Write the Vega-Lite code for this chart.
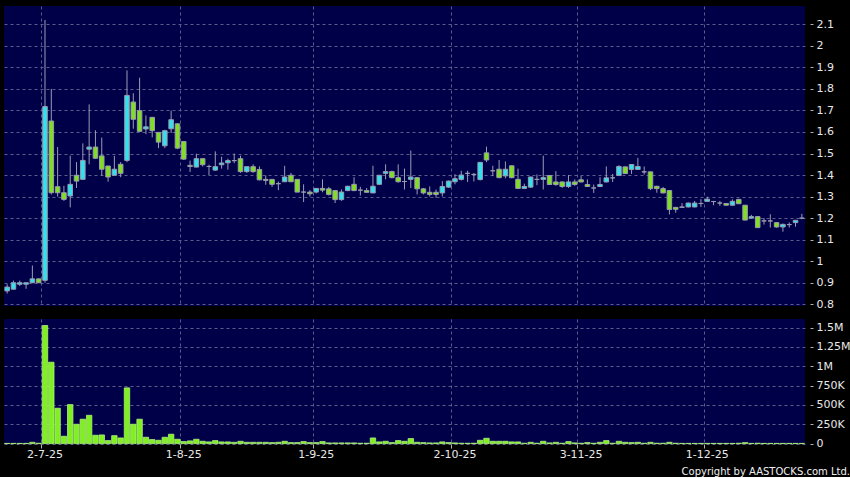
{
 "$schema": "https://vega.github.io/schema/vega-lite/v6.json",
 "background": "#000000",
 "padding": {"left": 4, "top": 6, "right": 0, "bottom": 0},
 "spacing": 9,
 "config": {
  "view": {"fill": "#000048", "stroke": null},
  "font": "DejaVu Sans",
  "axis": {"labelColor": "#e8e8e8", "labelFont": "DejaVu Sans", "labelFontSize": 11, "tickColor": "#b0b0b0", "domain": false, "gridColor": "#5c5c8c", "gridDash": [3, 3], "gridWidth": 1}
 },
 "title": {"text": "Copyright by AASTOCKS.com Ltd.", "orient": "bottom", "anchor": "end", "fontSize": 10, "fontWeight": "normal", "color": "#f0f0f0", "offset": 8, "font": "DejaVu Sans"},
 "data": {"values": [
{"d":"2025-06-23","o":0.862,"c":0.880,"h":0.893,"l":0.850,"v":3000},
{"d":"2025-06-24","o":0.870,"c":0.900,"h":0.910,"l":0.868,"v":3000},
{"d":"2025-06-25","o":0.893,"c":0.900,"h":0.910,"l":0.885,"v":3000},
{"d":"2025-06-26","o":0.893,"c":0.900,"h":0.900,"l":0.872,"v":3000},
{"d":"2025-06-27","o":0.900,"c":0.918,"h":0.980,"l":0.900,"v":17000},
{"d":"2025-06-30","o":0.918,"c":0.900,"h":0.920,"l":0.900,"v":5000},
{"d":"2025-07-02","o":0.911,"c":1.718,"h":2.120,"l":0.900,"v":1526000},
{"d":"2025-07-03","o":1.651,"c":1.318,"h":1.800,"l":1.310,"v":1052000},
{"d":"2025-07-04","o":1.346,"c":1.318,"h":1.530,"l":1.300,"v":457000},
{"d":"2025-07-07","o":1.318,"c":1.287,"h":1.350,"l":1.280,"v":95000},
{"d":"2025-07-08","o":1.303,"c":1.357,"h":1.490,"l":1.250,"v":504000},
{"d":"2025-07-09","o":1.399,"c":1.372,"h":1.460,"l":1.340,"v":250000},
{"d":"2025-07-10","o":1.380,"c":1.468,"h":1.547,"l":1.380,"v":315000},
{"d":"2025-07-11","o":1.520,"c":1.530,"h":1.728,"l":1.450,"v":366000},
{"d":"2025-07-14","o":1.530,"c":1.478,"h":1.608,"l":1.475,"v":108000},
{"d":"2025-07-15","o":1.489,"c":1.427,"h":1.574,"l":1.396,"v":112000},
{"d":"2025-07-16","o":1.442,"c":1.391,"h":1.442,"l":1.369,"v":39000},
{"d":"2025-07-17","o":1.399,"c":1.427,"h":1.489,"l":1.399,"v":103000},
{"d":"2025-07-18","o":1.450,"c":1.408,"h":1.460,"l":1.390,"v":73000},
{"d":"2025-07-21","o":1.468,"c":1.770,"h":1.886,"l":1.460,"v":720000},
{"d":"2025-07-22","o":1.739,"c":1.659,"h":1.780,"l":1.615,"v":250000},
{"d":"2025-07-23","o":1.699,"c":1.603,"h":1.852,"l":1.600,"v":315000},
{"d":"2025-07-24","o":1.614,"c":1.624,"h":1.677,"l":1.590,"v":82000},
{"d":"2025-07-25","o":1.668,"c":1.606,"h":1.668,"l":1.575,"v":52000},
{"d":"2025-07-28","o":1.598,"c":1.553,"h":1.598,"l":1.525,"v":43000},
{"d":"2025-07-29","o":1.536,"c":1.606,"h":1.610,"l":1.525,"v":82000},
{"d":"2025-07-30","o":1.615,"c":1.657,"h":1.699,"l":1.595,"v":121000},
{"d":"2025-07-31","o":1.638,"c":1.525,"h":1.640,"l":1.520,"v":56000},
{"d":"2025-08-01","o":1.556,"c":1.474,"h":1.556,"l":1.470,"v":26000},
{"d":"2025-08-04","o":1.445,"c":1.440,"h":1.467,"l":1.414,"v":35000},
{"d":"2025-08-05","o":1.437,"c":1.476,"h":1.499,"l":1.437,"v":56000},
{"d":"2025-08-06","o":1.476,"c":1.448,"h":1.476,"l":1.440,"v":30000},
{"d":"2025-08-07","o":1.440,"c":1.440,"h":1.448,"l":1.400,"v":22000},
{"d":"2025-08-08","o":1.423,"c":1.439,"h":1.510,"l":1.420,"v":39000},
{"d":"2025-08-11","o":1.448,"c":1.456,"h":1.485,"l":1.430,"v":22000},
{"d":"2025-08-12","o":1.457,"c":1.467,"h":1.476,"l":1.425,"v":22000},
{"d":"2025-08-13","o":1.467,"c":1.467,"h":1.500,"l":1.455,"v":17000},
{"d":"2025-08-14","o":1.476,"c":1.416,"h":1.490,"l":1.410,"v":30000},
{"d":"2025-08-15","o":1.416,"c":1.439,"h":1.440,"l":1.410,"v":17000},
{"d":"2025-08-18","o":1.439,"c":1.416,"h":1.450,"l":1.410,"v":17000},
{"d":"2025-08-19","o":1.426,"c":1.378,"h":1.440,"l":1.375,"v":17000},
{"d":"2025-08-20","o":1.380,"c":1.375,"h":1.398,"l":1.355,"v":17000},
{"d":"2025-08-21","o":1.380,"c":1.357,"h":1.380,"l":1.345,"v":13000},
{"d":"2025-08-22","o":1.360,"c":1.360,"h":1.370,"l":1.330,"v":17000},
{"d":"2025-08-25","o":1.369,"c":1.391,"h":1.443,"l":1.369,"v":30000},
{"d":"2025-08-26","o":1.399,"c":1.369,"h":1.410,"l":1.369,"v":13000},
{"d":"2025-08-27","o":1.380,"c":1.321,"h":1.380,"l":1.320,"v":13000},
{"d":"2025-08-28","o":1.321,"c":1.321,"h":1.357,"l":1.275,"v":26000},
{"d":"2025-08-29","o":1.321,"c":1.313,"h":1.330,"l":1.300,"v":13000},
{"d":"2025-09-01","o":1.321,"c":1.338,"h":1.340,"l":1.315,"v":13000},
{"d":"2025-09-02","o":1.338,"c":1.330,"h":1.380,"l":1.320,"v":26000},
{"d":"2025-09-03","o":1.336,"c":1.310,"h":1.345,"l":1.305,"v":9000},
{"d":"2025-09-04","o":1.328,"c":1.286,"h":1.330,"l":1.270,"v":9000},
{"d":"2025-09-05","o":1.286,"c":1.321,"h":1.333,"l":1.280,"v":9000},
{"d":"2025-09-08","o":1.328,"c":1.348,"h":1.350,"l":1.325,"v":9000},
{"d":"2025-09-09","o":1.357,"c":1.328,"h":1.390,"l":1.325,"v":9000},
{"d":"2025-09-10","o":1.330,"c":1.330,"h":1.345,"l":1.305,"v":5000},
{"d":"2025-09-11","o":1.328,"c":1.320,"h":1.340,"l":1.318,"v":5000},
{"d":"2025-09-12","o":1.317,"c":1.348,"h":1.443,"l":1.317,"v":73000},
{"d":"2025-09-15","o":1.357,"c":1.399,"h":1.400,"l":1.355,"v":22000},
{"d":"2025-09-16","o":1.408,"c":1.416,"h":1.450,"l":1.380,"v":30000},
{"d":"2025-09-17","o":1.416,"c":1.388,"h":1.420,"l":1.385,"v":13000},
{"d":"2025-09-18","o":1.388,"c":1.369,"h":1.450,"l":1.365,"v":39000},
{"d":"2025-09-19","o":1.370,"c":1.370,"h":1.430,"l":1.333,"v":30000},
{"d":"2025-09-22","o":1.380,"c":1.391,"h":1.514,"l":1.340,"v":65000},
{"d":"2025-09-23","o":1.388,"c":1.336,"h":1.390,"l":1.310,"v":17000},
{"d":"2025-09-24","o":1.336,"c":1.317,"h":1.340,"l":1.310,"v":13000},
{"d":"2025-09-25","o":1.320,"c":1.310,"h":1.347,"l":1.300,"v":9000},
{"d":"2025-09-26","o":1.320,"c":1.310,"h":1.333,"l":1.295,"v":9000},
{"d":"2025-09-29","o":1.317,"c":1.347,"h":1.372,"l":1.300,"v":22000},
{"d":"2025-09-30","o":1.344,"c":1.372,"h":1.375,"l":1.340,"v":13000},
{"d":"2025-10-02","o":1.369,"c":1.383,"h":1.404,"l":1.357,"v":9000},
{"d":"2025-10-03","o":1.380,"c":1.400,"h":1.420,"l":1.375,"v":5000},
{"d":"2025-10-06","o":1.408,"c":1.408,"h":1.420,"l":1.368,"v":5000},
{"d":"2025-10-08","o":1.403,"c":1.403,"h":1.410,"l":1.370,"v":5000},
{"d":"2025-10-09","o":1.379,"c":1.459,"h":1.460,"l":1.375,"v":43000},
{"d":"2025-10-10","o":1.503,"c":1.470,"h":1.532,"l":1.460,"v":69000},
{"d":"2025-10-13","o":1.420,"c":1.420,"h":1.443,"l":1.395,"v":30000},
{"d":"2025-10-14","o":1.427,"c":1.388,"h":1.470,"l":1.385,"v":30000},
{"d":"2025-10-15","o":1.396,"c":1.427,"h":1.463,"l":1.385,"v":30000},
{"d":"2025-10-16","o":1.443,"c":1.388,"h":1.445,"l":1.385,"v":22000},
{"d":"2025-10-17","o":1.380,"c":1.338,"h":1.430,"l":1.335,"v":22000},
{"d":"2025-10-20","o":1.338,"c":1.347,"h":1.360,"l":1.335,"v":5000},
{"d":"2025-10-21","o":1.344,"c":1.391,"h":1.392,"l":1.340,"v":17000},
{"d":"2025-10-22","o":1.380,"c":1.380,"h":1.403,"l":1.353,"v":5000},
{"d":"2025-10-23","o":1.380,"c":1.388,"h":1.490,"l":1.333,"v":30000},
{"d":"2025-10-24","o":1.398,"c":1.356,"h":1.400,"l":1.355,"v":9000},
{"d":"2025-10-27","o":1.368,"c":1.356,"h":1.418,"l":1.350,"v":17000},
{"d":"2025-10-28","o":1.368,"c":1.347,"h":1.370,"l":1.340,"v":5000},
{"d":"2025-10-30","o":1.347,"c":1.368,"h":1.400,"l":1.340,"v":26000},
{"d":"2025-10-31","o":1.368,"c":1.356,"h":1.380,"l":1.350,"v":9000},
{"d":"2025-11-03","o":1.378,"c":1.368,"h":1.395,"l":1.366,"v":5000},
{"d":"2025-11-04","o":1.356,"c":1.347,"h":1.380,"l":1.345,"v":13000},
{"d":"2025-11-05","o":1.340,"c":1.340,"h":1.356,"l":1.317,"v":5000},
{"d":"2025-11-06","o":1.347,"c":1.356,"h":1.390,"l":1.345,"v":17000},
{"d":"2025-11-07","o":1.368,"c":1.387,"h":1.440,"l":1.366,"v":39000},
{"d":"2025-11-10","o":1.387,"c":1.387,"h":1.405,"l":1.368,"v":5000},
{"d":"2025-11-11","o":1.398,"c":1.440,"h":1.445,"l":1.395,"v":30000},
{"d":"2025-11-12","o":1.438,"c":1.407,"h":1.440,"l":1.405,"v":17000},
{"d":"2025-11-13","o":1.426,"c":1.449,"h":1.450,"l":1.405,"v":13000},
{"d":"2025-11-14","o":1.426,"c":1.440,"h":1.480,"l":1.425,"v":17000},
{"d":"2025-11-17","o":1.415,"c":1.415,"h":1.440,"l":1.402,"v":5000},
{"d":"2025-11-18","o":1.415,"c":1.337,"h":1.415,"l":1.330,"v":17000},
{"d":"2025-11-19","o":1.348,"c":1.337,"h":1.350,"l":1.318,"v":5000},
{"d":"2025-11-20","o":1.337,"c":1.317,"h":1.345,"l":1.315,"v":5000},
{"d":"2025-11-21","o":1.328,"c":1.240,"h":1.330,"l":1.217,"v":17000},
{"d":"2025-11-24","o":1.250,"c":1.241,"h":1.252,"l":1.225,"v":5000},
{"d":"2025-11-25","o":1.250,"c":1.252,"h":1.270,"l":1.250,"v":3000},
{"d":"2025-11-26","o":1.252,"c":1.270,"h":1.272,"l":1.250,"v":3000},
{"d":"2025-11-27","o":1.252,"c":1.270,"h":1.280,"l":1.250,"v":3000},
{"d":"2025-11-28","o":1.268,"c":1.268,"h":1.288,"l":1.252,"v":3000},
{"d":"2025-12-01","o":1.278,"c":1.288,"h":1.300,"l":1.275,"v":3000},
{"d":"2025-12-02","o":1.277,"c":1.277,"h":1.280,"l":1.260,"v":3000},
{"d":"2025-12-03","o":1.270,"c":1.270,"h":1.280,"l":1.257,"v":3000},
{"d":"2025-12-04","o":1.268,"c":1.260,"h":1.270,"l":1.258,"v":3000},
{"d":"2025-12-05","o":1.260,"c":1.278,"h":1.287,"l":1.258,"v":3000},
{"d":"2025-12-08","o":1.287,"c":1.267,"h":1.290,"l":1.265,"v":5000},
{"d":"2025-12-09","o":1.260,"c":1.191,"h":1.260,"l":1.190,"v":13000},
{"d":"2025-12-10","o":1.200,"c":1.207,"h":1.215,"l":1.198,"v":3000},
{"d":"2025-12-11","o":1.207,"c":1.156,"h":1.210,"l":1.155,"v":5000},
{"d":"2025-12-12","o":1.187,"c":1.187,"h":1.200,"l":1.170,"v":3000},
{"d":"2025-12-15","o":1.187,"c":1.187,"h":1.218,"l":1.156,"v":3000},
{"d":"2025-12-16","o":1.179,"c":1.159,"h":1.180,"l":1.155,"v":3000},
{"d":"2025-12-17","o":1.159,"c":1.171,"h":1.175,"l":1.137,"v":3000},
{"d":"2025-12-18","o":1.170,"c":1.170,"h":1.180,"l":1.156,"v":3000},
{"d":"2025-12-19","o":1.179,"c":1.190,"h":1.190,"l":1.160,"v":3000},
{"d":"2025-12-22","o":1.200,"c":1.200,"h":1.220,"l":1.195,"v":3000}
 ]},
 "vconcat": [
  {
   "width": 801,
   "height": 300,
   "encoding": {
    "x": {"field": "d", "type": "ordinal", "scale": {"paddingInner": 0, "paddingOuter": 0},
          "axis": {"values": ["2025-07-02","2025-08-01","2025-09-01","2025-10-02","2025-11-03","2025-12-01"], "labels": false, "ticks": false, "grid": true, "bandPosition": 0, "title": null}}
   },
   "layer": [
    {
     "mark": {"type": "rule", "color": "#9c9cb4", "strokeWidth": 1},
     "encoding": {
      "y": {"field": "l", "type": "quantitative", "scale": {"domain": [0.792, 2.185], "zero": false, "nice": false},
            "axis": {"orient": "right", "values": [0.8,0.9,1,1.1,1.2,1.3,1.4,1.5,1.6,1.7,1.8,1.9,2,2.1], "format": ".2~f", "title": null, "offset": 5, "tickSize": 3, "labelPadding": 3, "grid": true}},
      "y2": {"field": "h"}
     }
    },
    {
     "mark": {"type": "bar", "width": {"band": 0.72}, "stroke": "#9a9ab0", "strokeWidth": 1},
     "encoding": {
      "y": {"field": "o", "type": "quantitative",
            "axis": {"orient": "right", "values": [0.8,0.9,1,1.1,1.2,1.3,1.4,1.5,1.6,1.7,1.8,1.9,2,2.1], "format": ".2~f", "title": null, "offset": 5, "tickSize": 3, "labelPadding": 3, "grid": true}},
      "y2": {"field": "c"},
      "fill": {"condition": [{"test": "datum.c > datum.o", "value": "#33e0ee"}, {"test": "datum.c < datum.o", "value": "#80e020"}], "value": "#9a9ab0"}
     }
    }
   ]
  },
  {
   "width": 801,
   "height": 125,
   "mark": {"type": "bar", "width": {"band": 0.86}, "fill": "#80f020", "stroke": "#b0f080", "strokeWidth": 0.8},
   "encoding": {
    "x": {"field": "d", "type": "ordinal", "scale": {"paddingInner": 0, "paddingOuter": 0},
          "axis": {"values": ["2025-07-02","2025-08-01","2025-09-01","2025-10-02","2025-11-03","2025-12-01"], "labelExpr": "toNumber(slice(datum.value, 8, 10)) + '-' + toNumber(slice(datum.value, 5, 7)) + '-' + slice(datum.value, 2, 4)", "bandPosition": 0, "grid": true, "tickSize": 4, "labelPadding": 0, "labelAngle": 0, "title": null}},
    "y": {"field": "v", "type": "quantitative", "scale": {"domain": [-5000, 1610000], "zero": false, "nice": false},
          "axis": {"orient": "right", "values": [0,250000,500000,750000,1000000,1250000,1500000], "labelExpr": "datum.value >= 1000000 ? format(datum.value/1000000, '~g') + 'M' : (datum.value > 0 ? format(datum.value/1000, '~g') + 'K' : '0')", "title": null, "offset": 5, "tickSize": 3, "labelPadding": 3, "grid": true}},
    "y2": {"datum": 0}
   }
  }
 ]
}
